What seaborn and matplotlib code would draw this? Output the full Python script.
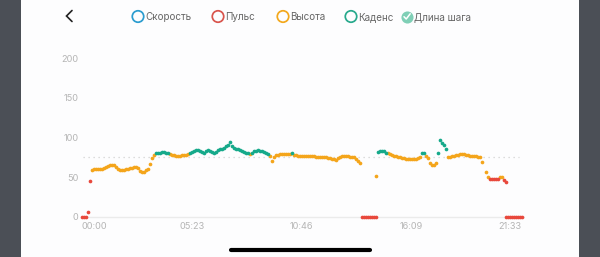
import numpy as np
import pandas as pd
import matplotlib
matplotlib.use("Agg")
import matplotlib.pyplot as plt
import seaborn as sns

# ---- data (x = sample number along the time axis) ----
alt_x = [5, 6, 7, 8, 9, 10, 11, 12, 13, 14, 15, 16, 17, 18, 19, 20, 21, 22, 23, 24,
         25, 26, 27, 28, 29, 30, 31, 32, 33, 34, 35, 36,
         44, 45, 46, 47, 48, 49, 50, 51, 52, 53,
         84, 94, 95, 96, 97, 98, 99, 100, 101, 102, 103, 104,
         106, 107, 108, 109, 110, 111, 112, 113, 114, 115, 116, 117, 118, 119, 120, 121,
         122, 123, 124, 125, 126, 127, 128, 129, 130, 131, 132, 133, 134, 135, 136, 137,
         138, 139, 147,
         153, 154, 155, 156, 157, 158, 159, 160, 161, 162, 163, 164, 165, 166, 167, 168, 169,
         172, 173, 174, 175, 176, 177,
         183, 184, 185, 186, 187, 188, 189, 190, 191, 192, 193, 194, 195, 196, 197, 198, 199,
         200, 202, 203, 209, 210]
alt_y = [59, 60, 60, 60, 60.5, 61, 62, 63, 64, 65, 65.5, 65, 63, 61, 59.5, 59, 59, 60, 61, 61.5,
         62, 62.5, 63, 62, 58, 57, 56.5, 58.5, 61, 67, 74, 78,
         79, 78, 77.5, 77, 77, 77, 77.5, 78, 78.5, 79,
         79, 77, 70, 76, 78, 78.5, 79, 79, 79, 79, 79, 79,
         78.5, 77.5, 77, 77, 77, 77, 77, 77, 76.5, 76.5, 76.5, 76, 75.5, 75, 75, 75.5,
         75, 74.5, 74, 73, 72.5, 72, 74, 76, 77, 77, 77, 76.5, 76, 75.5, 75, 73.5,
         70, 67.5, 52,
         80, 79, 78, 77, 76.5, 76, 75, 74.5, 74, 73.5, 73, 72.5, 72.5, 72.5, 73, 74.5, 76,
         77, 74, 68, 66, 66, 67.5,
         76, 75, 76.5, 77, 78, 78.5, 79, 79, 79, 78.5, 78, 77, 76.5, 76.5, 77, 76, 75,
         69, 56, 50, 50, 50]

cad_x = [37, 38, 39, 40, 41, 42, 43,
         54, 55, 56, 57, 58, 59, 60, 61, 62, 63, 64, 65, 66, 67, 68, 69, 70, 71, 72, 73,
         74, 75, 76, 77, 78, 79, 80, 81, 82, 83,
         85, 86, 87, 88, 89, 90, 91, 92, 93, 105,
         148, 149, 150, 151, 152, 170, 171,
         178, 179, 180, 181, 182]
cad_y = [80, 80.5, 81, 82, 82, 81, 80,
         80, 81.5, 83, 84, 84, 83, 82, 81, 82.5, 84, 83, 81.5, 81, 82, 84, 85, 86, 87,
         89, 91, 94, 89, 87, 86, 85, 84, 83, 82, 81, 80,
         81, 82.5, 83.5, 84, 83.5, 83, 82, 81, 79, 80,
         82, 83, 83, 82.5, 81, 80, 80,
         81, 97, 93, 90, 85]

hr_x = [0, 1, 2, 3, 4,
        140, 141, 142, 143, 144, 145, 146, 147,
        204, 205, 206, 207, 208, 211, 212,
        212, 213, 214, 215, 216, 217, 218, 219, 220]
hr_y = [0, 0, 0, 6, 45,
        0, 0, 0, 0, 0, 0, 0, 0,
        47.5, 47.5, 47.5, 48, 48, 47, 44,
        0, 0, 0, 0, 0, 0, 0, 0, 0]

avg_value = 75
y_ticks = [0, 50, 100, 150, 200]
x_tick_pos = [6, 55, 109.75, 164.5, 214]
x_tick_labels = ["00:00", "05:23", "10:46", "16:09", "21:33"]

legend_labels = ["Скорость", "Пульс", "Высота", "Каденс", "Длина шага"]
legend_colors = ["#2a9ccf", "#d9544c", "#f3a81c", "#27a98c", "#7fcfb6"]

C_ALT = "#F4A51B"
C_CAD = "#15A98A"
C_HR = "#E8483C"

# ---- figure ----
sns.set_theme(style="white")
plt.rcParams["font.family"] = ["Inter", "DejaVu Sans"]

W, H = 600, 257
fig = plt.figure(figsize=(6.0, 2.57), dpi=100)
fig.patch.set_facecolor("#fdfdfe")

# overlay in pixel coords for chrome
bg = fig.add_axes([0, 0, 1, 1], zorder=0)
bg.set_xlim(0, W)
bg.set_ylim(H, 0)
bg.axis("off")
bg.add_patch(plt.Rectangle((0, 0), 21, H, color="#4b4f56", lw=0))
bg.add_patch(plt.Rectangle((579, 0), 21, H, color="#4b4f56", lw=0))
bg.plot([72, 66.5, 72], [10.5, 16, 21.5], color="#222222", lw=1.2,
        solid_capstyle="round", solid_joinstyle="miter")
bg.plot([231, 370], [250, 250], color="#000000", lw=3.0, solid_capstyle="round")

leg_cx = [138, 218, 283, 351, 407]
for i, (lab, col) in enumerate(zip(legend_labels, legend_colors)):
    if i == 4:
        bg.scatter([leg_cx[i]], [16.5], s=76, color=col, lw=0)
        bg.plot([leg_cx[i] - 3, leg_cx[i] - 0.8, leg_cx[i] + 3.2],
                [16.7, 19, 13.8], color="white", lw=1.1, solid_capstyle="round")
    else:
        bg.scatter([leg_cx[i]], [16.5], s=68, facecolor="none", edgecolor=col, lw=1.25)
    bg.text(leg_cx[i] + 7, 17, lab, fontsize=7.1, color="#666666", va="center", ha="left")

# chart axes: px x 82..525, y 50..220
ax_left, ax_right, ax_top, ax_bot = 82, 525, 50, 220
ax = fig.add_axes([ax_left / W, (H - ax_bot) / H, (ax_right - ax_left) / W, (ax_bot - ax_top) / H],
                  zorder=1)
ax.patch.set_alpha(0)
px_per_unit = 0.795
ax.set_xlim(0, (ax_right - ax_left) / 2)
ax.set_ylim((217 - ax_bot) / px_per_unit, (217 - ax_top) / px_per_unit)

ax.hlines(0, 0, 221.5, color="#ebebeb", lw=1.0, zorder=1)
ax.hlines(avg_value, 0.5, 218.5, color="#d2d2d2", lw=0.9, linestyles=(0, (1, 3)), zorder=1)

df_alt = pd.DataFrame({"x": alt_x, "y": alt_y})
df_cad = pd.DataFrame({"x": cad_x, "y": cad_y})
df_hr = pd.DataFrame({"x": hr_x, "y": hr_y})
for d, c in [(df_alt, C_ALT), (df_cad, C_CAD), (df_hr, C_HR)]:
    sns.scatterplot(data=d, x="x", y="y", ax=ax, color=c, s=7, linewidth=0,
                    clip_on=False, zorder=3, legend=False)

ax.set_yticks(y_ticks)
ax.set_yticklabels([str(v) for v in y_ticks])
ax.set_xticks(x_tick_pos)
ax.set_xticklabels(x_tick_labels)
ax.tick_params(axis="both", length=0, labelsize=6.6, labelcolor="#b5b5b5")
ax.tick_params(axis="y", pad=2.5)
ax.tick_params(axis="x", pad=1.5)
ax.set_xlabel("")
ax.set_ylabel("")
for s in ax.spines.values():
    s.set_visible(False)
ax.grid(False)

fig.savefig("out.png", dpi=100, facecolor=fig.get_facecolor())
